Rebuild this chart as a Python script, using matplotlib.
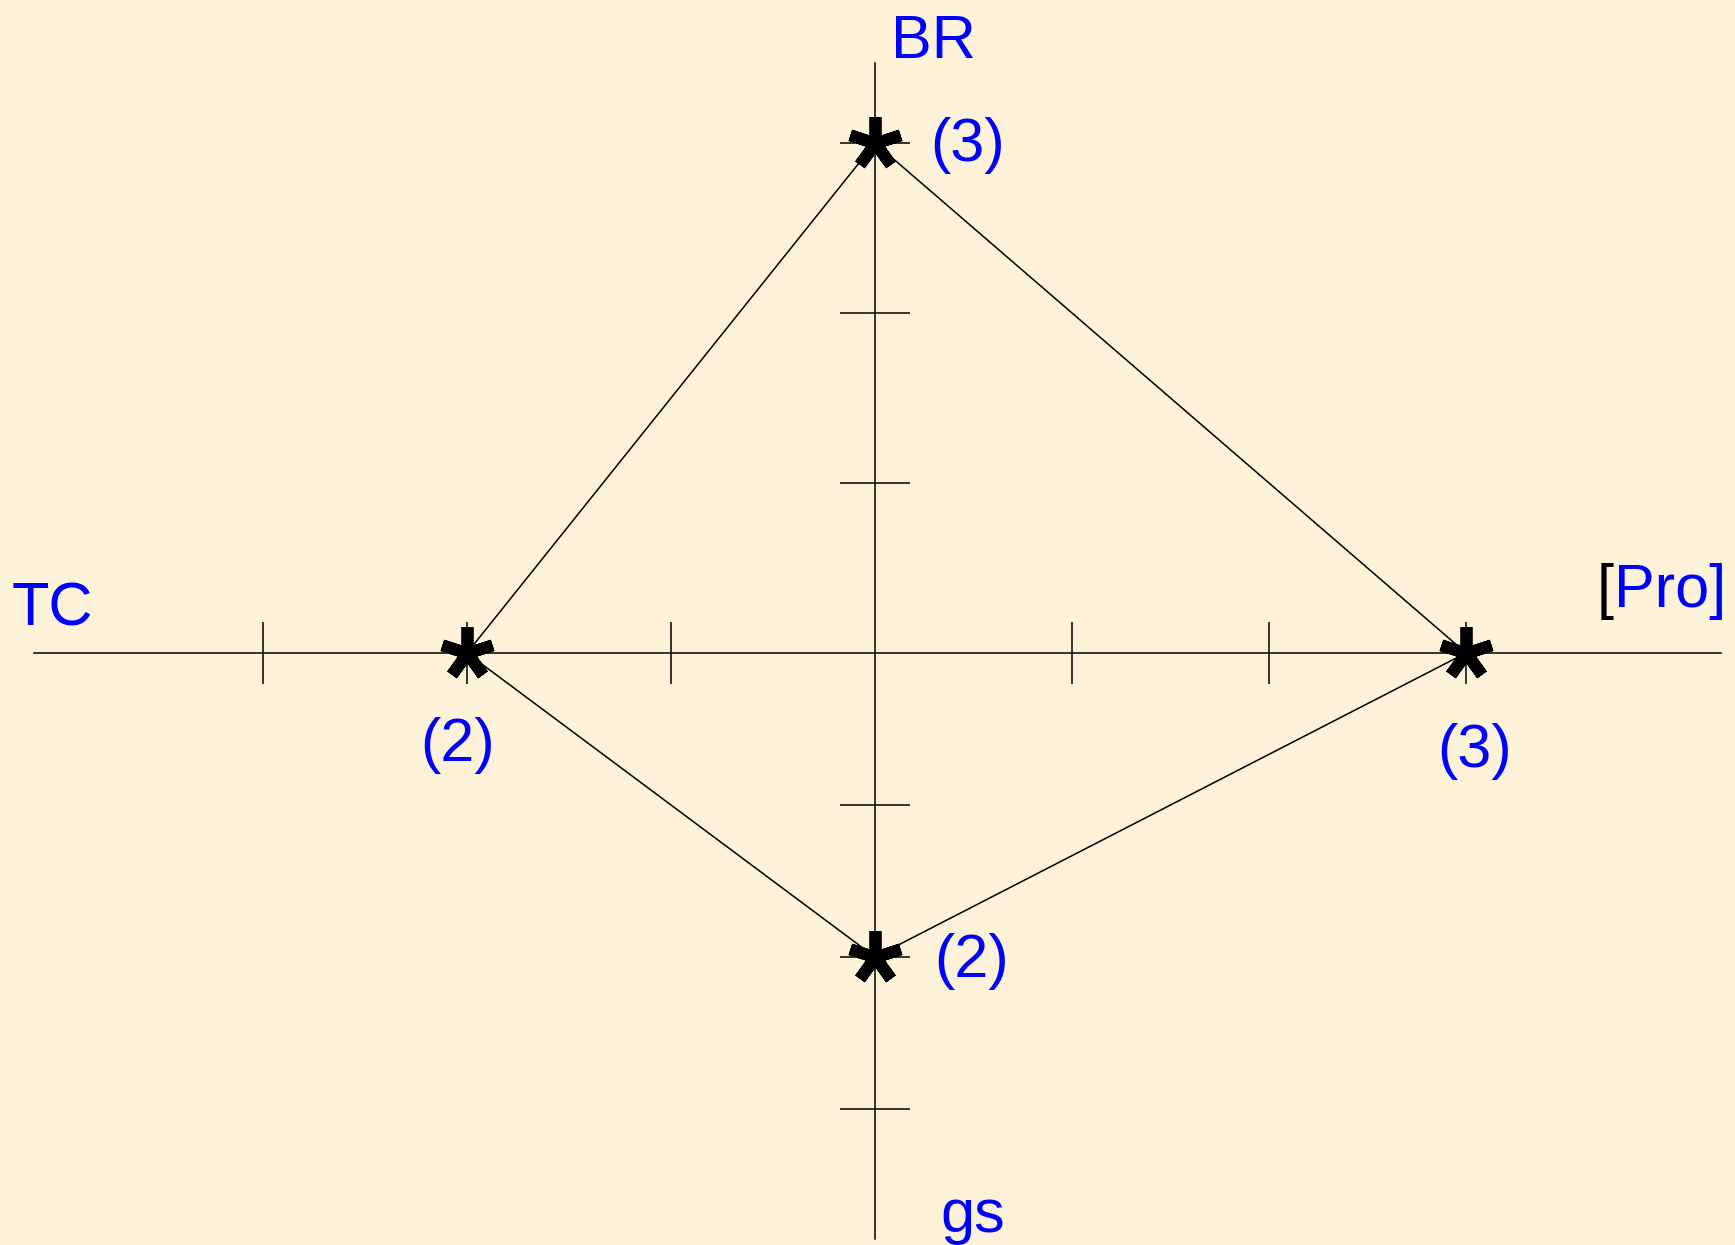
import numpy as np
import matplotlib.pyplot as plt

# 四个轴: 名称、得分、标注
axis_names = ['BR', '[Pro]', 'gs', 'TC']
scores = [3, 3, 2, 2]
point_labels = ['(3)', '(3)', '(2)', '(2)']
x_ticks = [-3, -2, -1, 1, 2, 3]
y_ticks = [3, 2, 1, -1, -2, -3]

# 轴方向: 上、右、下、左
directions = [(0, 1), (1, 0), (0, -1), (-1, 0)]

W, H = 1735, 1245
plt.rcParams['font.family'] = ['Liberation Sans', 'DejaVu Sans']
FS = 44

fig = plt.figure(figsize=(W / 100, H / 100), dpi=100)
fig.patch.set_facecolor('#FCF1D9')
ax = fig.add_axes([0, 0, 1, 1])
ax.set_facecolor('none')


# 原图是手画的, 正负两侧刻度间距不一样
def make_scale(pos, neg):
    def fwd(v):
        v = np.asarray(v, dtype=float)
        return np.where(v >= 0, v * pos, v * neg)

    def inv(v):
        v = np.asarray(v, dtype=float)
        return np.where(v >= 0, v / pos, v / neg)
    return fwd, inv


ax.set_xscale('function', functions=make_scale(197.0, 204.0))
ax.set_yscale('function', functions=make_scale(170.0, 152.0))
ax.set_xlim(-875 / 204.0, (W - 875) / 197.0)
ax.set_ylim(-(H - 653) / 152.0, 653 / 170.0)

# 十字坐标轴
for s in ['top', 'right']:
    ax.spines[s].set_visible(False)
ax.spines['left'].set_position(('data', 0))
ax.spines['bottom'].set_position(('data', 0))
ax.spines['bottom'].set_bounds(-841 / 204.0, 846 / 197.0)
ax.spines['left'].set_bounds(-586 / 152.0, 590 / 170.0)
for s in ['left', 'bottom']:
    ax.spines[s].set_linewidth(1.1)
ax.set_xticks(x_ticks)
ax.set_yticks(y_ticks)
ax.minorticks_off()
ax.tick_params(axis='x', direction='inout', length=44, width=1.1, labelbottom=False)
ax.tick_params(axis='y', direction='inout', length=50, width=1.1, labelleft=False)

# 各点坐标
px = [d[0] * s for d, s in zip(directions, scores)]
py = [d[1] * s for d, s in zip(directions, scores)]

ax.plot(px + px[:1], py + py[:1], color='black', lw=1.1, zorder=3)
ax.plot(px, py, ls='none', marker=(5, 2, 0), ms=38, mew=8.5, mec='black', zorder=4)

# 点旁边的 (n) 标注, 偏移单位是像素
offsets = [(93, -3), (9, -99), (97, -5), (-9, -93)]
for x, y, lab, off in zip(px, py, point_labels, offsets):
    ax.annotate(lab, xy=(x, y), xytext=off, textcoords='offset pixels',
                ha='center', va='center', fontsize=FS, color='#0000FF')


def fpos(x, y):
    return x / W, 1 - y / H


# 轴名称
fig.text(*fpos(891, 58), axis_names[0], fontsize=FS, color='#0000FF', va='baseline')
fig.text(*fpos(12, 626), axis_names[3], fontsize=FS, color='#0000FF', va='baseline')
fig.text(*fpos(940, 1232), axis_names[2], fontsize=FS, color='#0000FF', va='baseline')
br = fig.text(*fpos(1597, 607), axis_names[1][0], fontsize=FS, color='black', va='baseline')
ax.annotate(axis_names[1][1:], xy=(1, 0), xycoords=br, fontsize=FS, color='#0000FF',
            ha='left', va='bottom')

fig.savefig('out.png', dpi=100, facecolor=fig.get_facecolor())
